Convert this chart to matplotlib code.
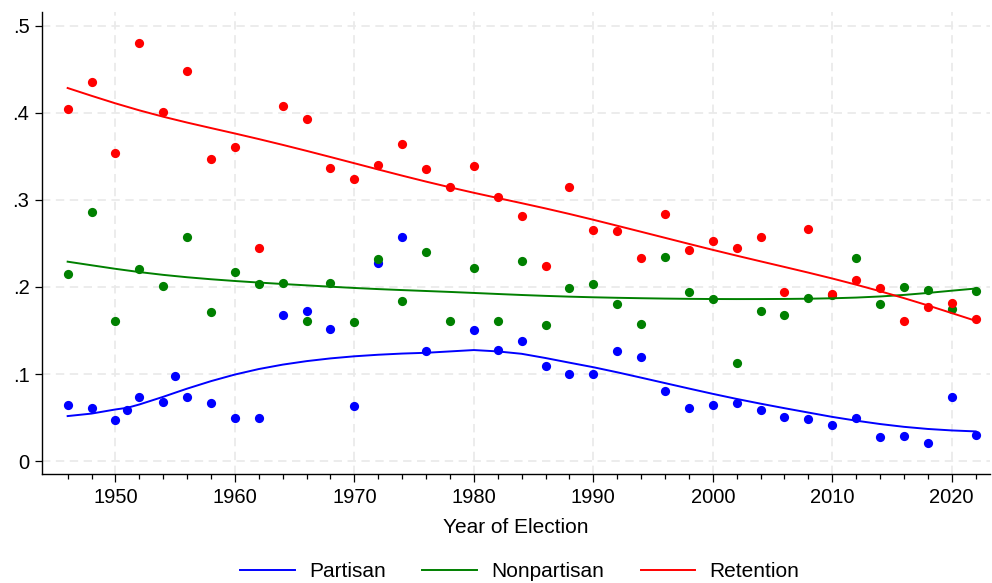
import numpy as np
import matplotlib.pyplot as plt

plt.rcParams['font.family'] = ['Liberation Sans', 'DejaVu Sans']
plt.rcParams['lines.scale_dashes'] = False

# share of incumbents losing, by type of election
years_partisan = [1946, 1948, 1950, 1951, 1952, 1954, 1955, 1956, 1958, 1960,
                  1962, 1964, 1966, 1968, 1970, 1972, 1974, 1976, 1980, 1982,
                  1984, 1986, 1988, 1990, 1992, 1994, 1996, 1998, 2000, 2002,
                  2004, 2006, 2008, 2010, 2012, 2014, 2016, 2018, 2020, 2022]
partisan = [0.064, 0.061, 0.047, 0.059, 0.073, 0.068, 0.098, 0.073, 0.067, 0.050,
            0.049, 0.168, 0.172, 0.152, 0.063, 0.228, 0.257, 0.126, 0.151, 0.128,
            0.138, 0.109, 0.100, 0.100, 0.126, 0.120, 0.080, 0.061, 0.064, 0.067,
            0.059, 0.051, 0.048, 0.041, 0.050, 0.028, 0.029, 0.021, 0.074, 0.030]

years = list(range(1946, 2023, 2))
nonpartisan = [0.215, 0.286, 0.161, 0.221, 0.201, 0.258, 0.171, 0.217, 0.204, 0.205,
               0.161, 0.205, 0.160, 0.232, 0.184, 0.240, 0.161, 0.222, 0.161, 0.230,
               0.156, 0.199, 0.203, 0.181, 0.157, 0.235, 0.194, 0.186, 0.113, 0.172,
               0.168, 0.187, 0.191, 0.233, 0.180, 0.200, 0.197, 0.175, 0.195]
retention = [0.405, 0.436, 0.354, 0.480, 0.401, 0.448, 0.347, 0.361, 0.245, 0.408,
             0.393, 0.337, 0.324, 0.340, 0.364, 0.336, 0.315, 0.339, 0.304, 0.282,
             0.224, 0.315, 0.265, 0.264, 0.233, 0.284, 0.242, 0.253, 0.245, 0.257,
             0.194, 0.267, 0.192, 0.208, 0.199, 0.161, 0.177, 0.182, 0.163]

ytick_vals = [0, 0.1, 0.2, 0.3, 0.4, 0.5]
ytick_labels = ['0', '.1', '.2', '.3', '.4', '.5']


def lowess(x, y, bw=0.8):
    # Stata-style lowess: tricube weights, running-line, no robustness steps
    x = np.asarray(x, float)
    y = np.asarray(y, float)
    n = len(x)
    k = int(np.floor((n * bw - 0.5) / 2))
    fit = np.empty(n)
    for i in range(n):
        lo = max(0, i - k)
        hi = min(n - 1, i + k)
        xs = x[lo:hi + 1]
        ys = y[lo:hi + 1]
        d = 1.0001 * max(x[hi] - x[i], x[i] - x[lo])
        w = (1 - (np.abs(xs - x[i]) / d) ** 3) ** 3
        b = np.polyfit(xs, ys, 1, w=np.sqrt(w))
        fit[i] = np.polyval(b, x[i])
    return fit


fig = plt.figure(figsize=(9.92, 5.83), dpi=100)
ax = fig.add_axes([0.0423, 0.187, 0.9556, 0.7925])

series = [
    (years_partisan, partisan, 'blue', 'Partisan'),
    (years, nonpartisan, 'green', 'Nonpartisan'),
    (years, retention, 'red', 'Retention'),
]

for x, y, col, lab in series:
    ax.scatter(x, y, s=44, color=col, linewidths=0, zorder=3)
for x, y, col, lab in series:
    ax.plot(x, lowess(x, y), color=col, lw=1.4, label=lab, zorder=4)

ax.set_xlim(1943.85, 2023.2)
ax.set_ylim(-0.0149, 0.5161)

ax.set_xticks(range(1950, 2021, 10))
ax.set_xticks(range(1946, 2023, 2), minor=True)
ax.set_yticks(ytick_vals)
ax.set_yticklabels(ytick_labels)

ax.tick_params(axis='x', which='major', length=6, width=0.9, labelsize=14.5, pad=4)
ax.tick_params(axis='x', which='minor', length=3.3, width=0.9)
ax.tick_params(axis='y', which='major', length=5, width=0.9, labelsize=14.5, pad=4)

for s in ['top', 'right']:
    ax.spines[s].set_visible(False)
for s in ['left', 'bottom']:
    ax.spines[s].set_linewidth(1.0)

ax.grid(True, which='major', color='#eaeaea', linestyle=(0, (6, 4)), linewidth=1.3)
ax.set_axisbelow(True)

ax.set_xlabel('Year of Election', fontsize=15, labelpad=8)

fig.legend(loc='center', bbox_to_anchor=(0.524, 0.019), ncol=3, frameon=False,
           fontsize=15, handlelength=2.6, handletextpad=0.7, columnspacing=1.75)

fig.savefig('out.png', dpi=100)
